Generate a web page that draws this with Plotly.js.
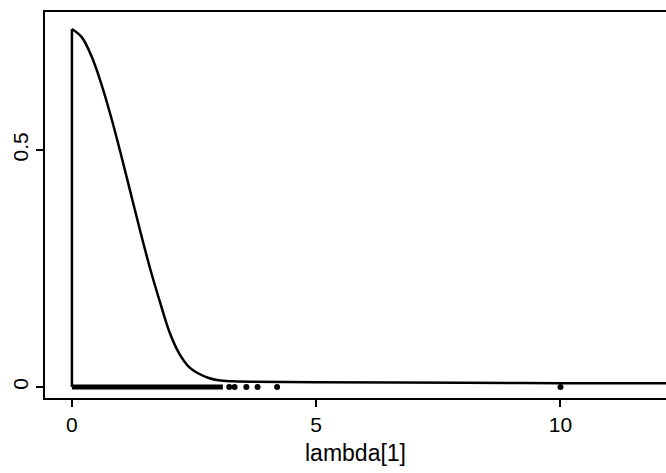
<!DOCTYPE html>
<html>
<head>
<meta charset="utf-8">
<script src="https://cdn.plot.ly/plotly-3.0.1.min.js"></script>
<style>html,body{margin:0;padding:0;background:#fff}#chart{width:666px;height:473px}</style>
</head>
<body>
<div id="chart"></div>
<script>
// density curve of lambda[1]
const densX = [0, 0.2, 0.4, 0.6, 0.8, 1.0, 1.2, 1.4, 1.6, 1.8, 2.0, 2.2, 2.4, 2.6, 2.8, 3.0, 3.3, 3.7, 5, 8, 10, 12.2];
const densY = [0.755, 0.738, 0.698, 0.640, 0.570, 0.492, 0.410, 0.328, 0.250, 0.180, 0.115, 0.070, 0.042, 0.028, 0.019, 0.014, 0.012, 0.011, 0.010, 0.009, 0.008, 0.008];
// vertical boundary at 0
const edgeX = [0, 0];
const edgeY = [0, 0.755];
// rug: dense band and isolated draws
const rugBandX = [0, 3.09];
const rugPointsX = [3.22, 3.33, 3.57, 3.80, 4.20, 10.0];
const xTicks = [0, 5, 10];
const yTicks = [0, 0.5];
const yTickText = ['0', '0.5'];

const traces = [
  {x: densX, y: densY, mode: 'lines', line: {color: '#000', width: 2.5, shape: 'spline', smoothing: 1}, hoverinfo: 'skip'},
  {x: edgeX, y: edgeY, mode: 'lines', line: {color: '#000', width: 2.5}, hoverinfo: 'skip'},
  {x: rugBandX, y: rugBandX.map(() => 0), mode: 'lines', line: {color: '#000', width: 5}, hoverinfo: 'skip'},
  {x: rugPointsX, y: rugPointsX.map(() => 0), mode: 'markers', marker: {color: '#000', size: 6, symbol: 'circle'}, hoverinfo: 'skip'}
];

const layout = {
  width: 666, height: 473,
  margin: {l: 45, r: 0, t: 12, b: 75},
  showlegend: false,
  paper_bgcolor: '#fff', plot_bgcolor: '#fff',
  font: {family: 'Liberation Sans, Arial, sans-serif', color: '#000', size: 21},
  xaxis: {
    range: [-0.551, 12.16],
    tickvals: xTicks, ticktext: xTicks.map(String),
    ticks: 'outside', ticklen: 7, tickwidth: 2, tickcolor: '#000',
    showline: true, linecolor: '#000', linewidth: 2, mirror: true,
    showgrid: false, zeroline: false,
    tickfont: {size: 21},
    title: {text: 'lambda[1]', font: {size: 23}, standoff: 10}
  },
  yaxis: {
    range: [-0.0232, 0.791],
    tickvals: yTicks, ticktext: yTickText,
    tickangle: -90,
    ticks: 'outside', ticklen: 7, tickwidth: 2, tickcolor: '#000',
    showline: true, linecolor: '#000', linewidth: 2,
    showgrid: false, zeroline: false,
    tickfont: {size: 21}
  }
};

Plotly.newPlot('chart', traces, layout, {displayModeBar: false, staticPlot: true});
</script>
</body>
</html>
